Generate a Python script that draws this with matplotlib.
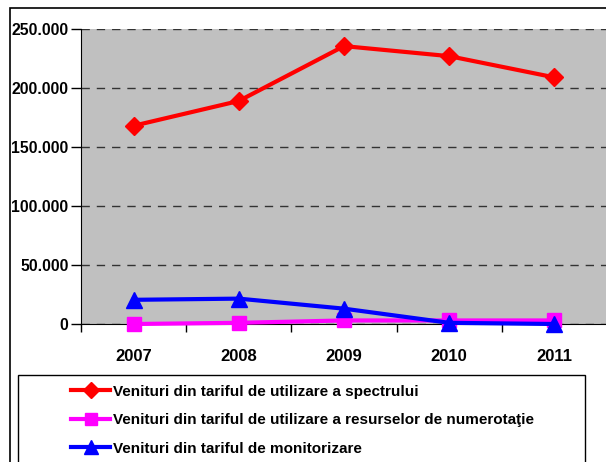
import matplotlib.pyplot as plt
from matplotlib.patches import Rectangle
from matplotlib.ticker import FuncFormatter

years = ["2007", "2008", "2009", "2010", "2011"]
spectru = [168000, 189000, 235500, 227000, 209000]
numerotatie = [0, 1000, 3000, 3000, 3000]
monitorizare = [20500, 21500, 13000, 1000, 0]

labels = ["Venituri din tariful de utilizare a spectrului",
          "Venituri din tariful de utilizare a resurselor de numerotaţie",
          "Venituri din tariful de monitorizare"]

plt.rcParams['font.family'] = ['Liberation Sans', 'DejaVu Sans']
plt.rcParams['font.weight'] = 'bold'

W, H = 606, 462
fig = plt.figure(figsize=(W / 100, H / 100), dpi=100)

# outer chart frame (cut by the image edge)
fig.patches.append(Rectangle((10 / W, -0.1), 1.2, 1 - 8 / H + 0.1, transform=fig.transFigure,
                             fill=False, edgecolor='black', linewidth=1.2))

ax = fig.add_axes([81 / W, 1 - 324 / H, (607 - 81) / W, (324 - 29) / H])
ax.set_facecolor('#C0C0C0')

x = list(range(len(years)))
l1, = ax.plot(x, spectru, color='#FF0000', linewidth=3, marker='D', markersize=9, clip_on=False, zorder=5)
l2, = ax.plot(x, numerotatie, color='#FF00FF', linewidth=3, marker='s', markersize=10, clip_on=False, zorder=4)
l3, = ax.plot(x, monitorizare, color='#0000FF', linewidth=3, marker='^', markersize=11, clip_on=False, zorder=6)

ax.set_xlim(-0.5, len(years) - 0.5)
ax.set_ylim(0, 250000)
ax.set_yticks([0, 50000, 100000, 150000, 200000, 250000])
ax.yaxis.set_major_formatter(FuncFormatter(lambda v, p: f"{int(v):,}".replace(",", ".")))
ax.yaxis.grid(True, linestyle=(0, (6, 5)), color='#333333', linewidth=1)
ax.set_axisbelow(True)

ax.set_xticks(x)
ax.set_xticklabels(years)
ax.set_xticks([i - 0.5 for i in range(len(years) + 1)], minor=True)
ax.tick_params(axis='x', which='major', length=0, pad=18, labelsize=12)
ax.tick_params(axis='x', which='minor', length=6, direction='out', width=1)
ax.tick_params(axis='y', length=7, width=1, direction='out', labelsize=11.3, pad=2)

for s in ['top', 'right']:
    ax.spines[s].set_visible(False)
ax.spines['left'].set_color('black')
ax.spines['bottom'].set_color('black')

# legend box
fig.patches.append(Rectangle((18 / W, -0.1), (585 - 18) / W, 1 - 375 / H + 0.1, transform=fig.transFigure,
                             fill=False, edgecolor='black', linewidth=1))
fig.legend([l1, l2, l3], labels, loc='upper left', bbox_to_anchor=(57 / W, 1 - 371 / H),
           frameon=False, fontsize=11, handlelength=2.6, handletextpad=0.15,
           labelspacing=0.95, markerscale=0.9)

fig.savefig('out.png', dpi=100)
